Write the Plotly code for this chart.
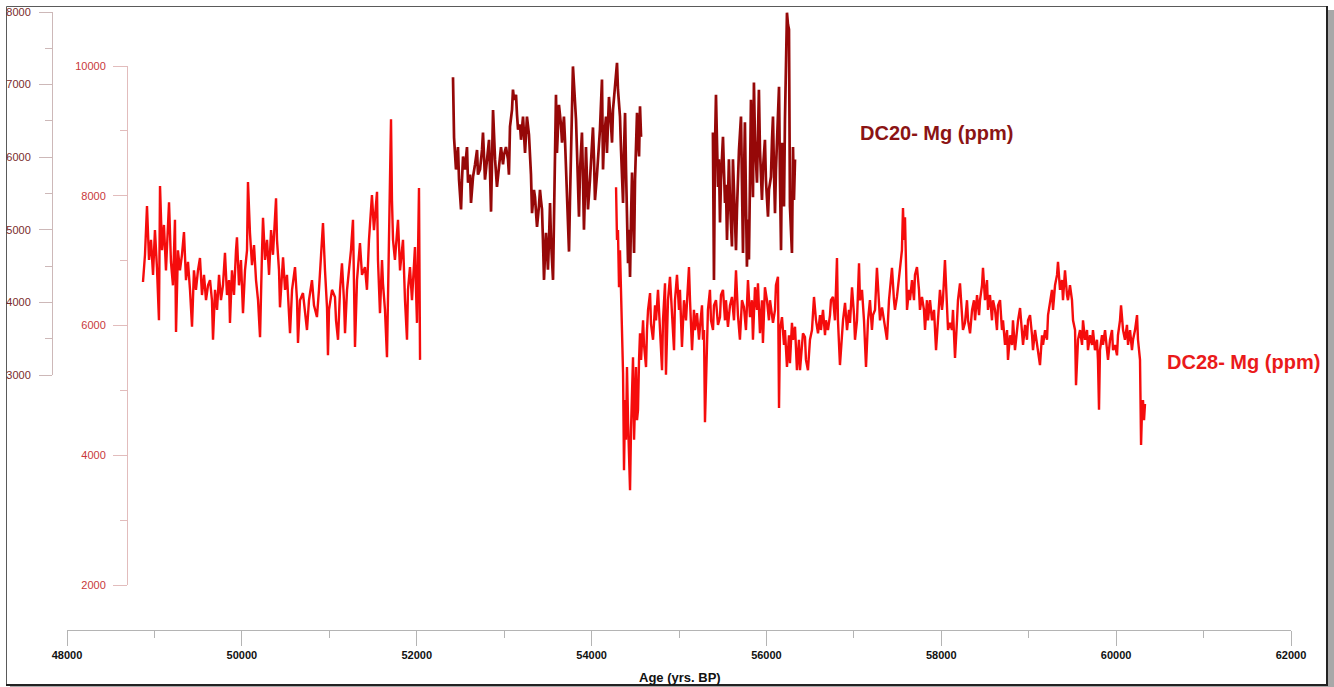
import plotly.graph_objects as go

# ---------------- DATA ----------------
# DC28 Mg (ppm), first segment
dc28_age_a = [48869,48892,48915,48938,48961,48984,49006,49029,49052,49064,
              49087,49109,49132,49144,49167,49189,49212,49235,49247,49269,
              49292,49315,49338,49361,49384,49407,49430,49452,49475,49498,
              49521,49544,49567,49590,49613,49636,49658,49670,49693,49716,
              49739,49761,49784,49807,49830,49853,49864,49887,49910,49933,
              49944,49967,49990,50013,50036,50059,50070,50093,50116,50139,
              50162,50185,50208,50231,50242,50265,50288,50311,50334,50356,
              50391,50402,50425,50436,50459,50471,50494,50516,50551,50574,
              50608,50631,50642,50665,50699,50722,50745,50768,50802,50825,
              50859,50882,50905,50928,50951,50974,50985,50997,51031,51065,
              51077,51100,51123,51145,51168,51180,51203,51225,51248,51271,
              51283,51294,51317,51340,51351,51374,51408,51431,51454,51488,
              51511,51546,51557,51580,51603,51614,51637,51660,51683,51706,
              51717,51729,51751,51786,51809,51843,51866,51889,51900,51923,
              51946,51980,51992,52003,52026,52038]
dc28_mg_a = [6670,7090,7840,7010,7320,6780,7470,6890,6080,8150,
             7160,7550,6850,7320,7900,6980,6620,7630,5900,7160,
             6850,7090,7440,6700,6980,6550,5980,6850,6550,6850,
             7040,6470,6780,6390,6620,6700,6390,5780,6550,6240,
             6780,6390,6620,7120,6470,6700,6040,6850,6470,7160,
             7360,6620,7010,6190,6850,7160,8210,7420,6930,7240,
             6700,6390,5820,7160,7660,7010,7320,6780,7470,7090,
             7960,7320,6850,6280,6850,7050,6550,6780,5880,6550,
             6900,6390,5730,6390,6500,6240,5930,6390,6700,6310,
             6130,6550,7010,7580,6850,6280,5540,6240,6550,6440,
             6080,5780,6550,6960,6390,5880,6550,6850,7160,7630,
             6390,5670,6700,7010,7270,6780,6900,6550,7320,8010,
             7470,8060,7010,6190,7010,6650,6240,5510,7160,9180,
             7930,7320,7010,7630,6850,7320,6390,5780,6550,6900,
             6390,7210,6550,6040,8120,5470]

# DC28 Mg (ppm), second segment
dc28_age_b = [54280,54291,54302,54314,54325,54337,54348,54360,54371,54383,
              54394,54405,54417,54428,54440,54451,54463,54474,54486,54497,
              54508,54520,54531,54543,54554,54566,54589,54600,54623,54634,
              54646,54669,54680,54703,54726,54737,54760,54783,54806,54817,
              54840,54851,54874,54897,54920,54943,54954,54977,55000,55011,
              55034,55057,55080,55103,55114,55126,55149,55171,55183,55206,
              55229,55240,55263,55274,55286,55297,55309,55320,55331,55354,
              55366,55389,55400,55423,55446,55469,55480,55503,55526,55537,
              55560,55583,55606,55629,55652,55674,55697,55720,55743,55766,
              55789,55812,55834,55846,55869,55892,55903,55926,55949,55960,
              55983,56006,56029,56041,56064,56075,56098,56109,56132,56144,
              56155,56178,56201,56212,56235,56258,56269,56292,56304,56327,
              56349,56372,56384,56407,56418,56441,56452,56475,56498,56521,
              56544,56567,56590,56613,56624,56647,56670,56681,56704,56727,
              56738,56761,56784,56807,56818,56841,56864,56876,56899,56922,
              56944,56956,56979,57002,57013,57036,57059,57070,57093,57116,
              57139,57162,57184,57207,57219,57242,57264,57287,57299,57322,
              57344,57356,57379,57402,57413,57436,57459,57470,57493,57516,
              57528,57550,57562,57573,57585,57596,57608,57631,57642,57665,
              57688,57699,57722,57745,57756,57779,57802,57814,57836,57848,
              57871,57894,57917,57940,57962,57985,58008,58019,58042,58065,
              58077,58100,58122,58134,58157,58180,58191,58214,58237,58248,
              58271,58294,58306,58329,58352,58374,58386,58409,58432,58443,
              58466,58477,58500,58523,58534,58557,58580,58592,58615,58637,
              58649,58672,58694,58706,58729,58752,58763,58786,58809,58820,
              58843,58866,58878,58901,58923,58935,58958,58980,58992,59015,
              59038,59049,59072,59095,59106,59129,59152,59164,59187,59209,
              59221,59244,59266,59278,59301,59324,59335,59358,59381,59392,
              59415,59438,59449,59472,59495,59507,59530,59541,59564,59587,
              59610,59621,59644,59667,59678,59701,59724,59735,59758,59781,
              59792,59804,59815,59838,59850,59873,59895,59907,59930,59953,
              59964,59987,60010,60021,60044,60056,60079,60101,60124,60136,
              60159,60181,60193,60216,60239,60250,60273,60285,60296,60307,
              60319,60330]
dc28_mg_b = [8130,7320,7470,6590,7160,6500,5780,5270,3770,4850,
             4240,5360,4540,4000,3460,4390,4850,5510,4240,4850,
             5360,4540,4700,5470,5880,5470,6080,5700,5360,5930,
             6240,6500,6020,5780,6310,6080,6550,5930,5310,6080,
             6650,5240,6390,6750,6080,5620,6390,6780,6240,6550,
             5670,6390,6080,6550,6900,6390,5620,6240,5930,6190,
             5780,5980,6310,5780,5930,4510,5160,5730,6240,6550,
             6080,5930,6310,6390,6010,6130,6470,6550,6080,6390,
             5980,6310,6440,6080,6850,6160,5780,6390,6280,5930,
             6700,6130,6390,5780,6590,6240,6650,5880,6390,5730,
             6590,6390,6080,6390,6160,6040,6240,6620,6750,4730,
             5930,6130,5700,5930,5360,5850,5420,6040,5780,5980,
             5310,5780,5310,5700,5880,5820,5470,5310,5780,5930,
             6440,6080,5880,6160,5930,6240,5850,6080,5930,6160,
             6390,6440,6080,7040,6080,5390,5930,6080,6350,5930,
             6240,6040,6590,6160,5780,6080,6960,6390,6550,6080,
             5360,6080,6390,5930,6160,6240,6890,6390,6080,6280,
             6080,5930,5780,6390,6550,6890,6390,6240,6440,6700,
             6850,7160,7810,7320,7670,6700,6240,6550,6390,6700,
             6390,6780,6900,6550,6240,6440,6240,5930,6390,6080,
             6390,6080,6240,5620,6080,6550,6240,6390,7010,6390,
             5930,6040,5930,6240,5500,6080,6390,6650,6240,5930,
             6040,6390,6080,5880,6240,6390,6080,6470,6160,6390,
             6620,6890,6390,6700,6240,6470,6080,6390,6240,5930,
             6310,6390,5930,6080,5700,5930,5470,5850,5700,6080,
             5620,5930,6080,6270,5930,5700,6010,5780,6080,6160,
             5850,5620,5930,5700,5620,5390,5850,5700,5930,5780,
             6160,6390,6550,6240,6620,6780,6980,6550,6700,6390,
             6850,6470,6390,6620,6390,6080,5930,5080,5780,5930,
             5700,6080,5780,5930,5620,5850,5700,5930,5620,5780,
             5470,4700,5620,5850,5700,5930,5620,5470,5780,5930,
             5620,5700,5540,5850,6080,6310,5930,5780,6010,5700,
             5930,5620,5780,5930,6160,5780,5470,4160,4700,4850,
             4540,4790]

# DC20 Mg (ppm), first segment
dc20_age_a = [52415,52427,52449,52472,52484,52507,52518,52530,52552,52575,
              52587,52610,52621,52644,52667,52690,52701,52724,52747,52758,
              52781,52804,52827,52838,52850,52873,52884,52896,52918,52941,
              52964,52987,52998,53021,53044,53055,53067,53090,53101,53113,
              53136,53147,53159,53181,53193,53216,53239,53250,53261,53284,
              53296,53307,53319,53341,53353,53364,53376,53399,53410,53421,
              53433,53444,53456,53467,53479,53490,53501,53513,53525,53536,
              53547,53559,53570,53582,53593,53604,53616,53627,53650,53662,
              53673,53684,53696,53707,53719,53742,53753,53764,53776,53787,
              53799,53810,53822,53833,53844,53856,53868,53890,53902,53913,
              53925,53936,53948,53959,53982,53993,54005,54016,54028,54039,
              54062,54073,54096,54119,54131,54142,54165,54176,54188,54199,
              54222,54234,54245,54268,54291,54302,54325,54337,54360,54371,
              54383,54394,54417,54428,54440,54451,54463,54474,54486,54497,
              54520,54531,54543,54554,54566]
dc20_mg_a = [7100,6270,5830,6140,5690,5280,5690,6010,5830,6140,
             5650,5760,5370,5730,5900,6100,5760,5830,6100,6340,
             5690,5970,6240,5830,5250,6650,6240,5970,5590,5900,
             6140,5900,6030,6140,5970,5760,6420,6650,6930,6790,
             6860,6590,6380,6450,6240,6560,6060,6310,6560,6310,
             6100,5760,5230,5550,5450,5210,5040,5340,5550,5410,
             5280,4860,4310,4650,4960,4720,4450,4860,5370,4860,
             4520,4310,5140,6100,6860,6060,6380,6720,6450,6200,
             6380,6560,6240,5870,5410,4700,5410,6010,6650,7250,
             7000,6790,6520,6100,5620,5180,5830,6340,5690,5000,
             5550,6140,5690,5280,5690,5970,6240,6410,5970,5410,
             5760,5920,6380,7070,5830,6240,6560,6060,6520,6830,
             6450,6200,6650,6930,7300,6930,6560,6100,5370,6100,
             6610,5830,4540,5000,4350,5140,5790,5280,4680,5690,
             6610,6240,6010,6700,6280]

# DC20 Mg (ppm), second segment
dc20_age_b = [55388,55400,55411,55423,55434,55446,55457,55469,55480,55503,
              55514,55526,55537,55549,55560,55571,55583,55606,55617,55629,
              55652,55663,55674,55686,55709,55720,55732,55743,55754,55766,
              55777,55789,55800,55812,55823,55834,55846,55857,55869,55892,
              55903,55914,55926,55949,55960,55983,55994,56018,56029,56052,
              56064,56075,56086,56098,56109,56121,56132,56144,56155,56167,
              56178,56189,56201,56212,56224,56235,56246,56258,56269,56281,
              56292,56304,56315,56327]
dc20_mg_b = [6340,4310,6100,6860,6240,5590,5970,5100,5690,6280,
             5830,5370,5620,4860,5410,5970,5410,4770,5970,5410,
             4720,5280,5790,6100,6560,5690,4680,5690,6480,5410,
             4490,5140,4590,5690,6790,6100,5450,7030,6240,5650,
             6380,6930,6100,5410,5830,6240,5690,5180,5550,5730,
             6240,6560,5830,5230,5830,6340,6650,6970,5690,4720,
             6200,5690,5320,6520,7620,7990,7830,7760,5320,5000,
             4680,6140,5410,5970]

x_ticks = [48000, 50000, 52000, 54000, 56000, 58000, 60000, 62000]
dc28_ticks = [2000, 4000, 6000, 8000, 10000]
dc20_ticks = [3000, 4000, 5000, 6000, 7000, 8000]

# ---------------- FIGURE ----------------
W, H = 1334, 687
def px(x):
    return x / W
def py(y):
    return 1 - y / H

def join(a1, v1, a2, v2):
    n1 = min(len(a1), len(v1))
    n2 = min(len(a2), len(v2))
    return (list(a1[:n1]) + [None] + list(a2[:n2]),
            list(v1[:n1]) + [None] + list(v2[:n2]))

dc20_x, dc20_y = join(dc20_age_a, dc20_mg_a, dc20_age_b, dc20_mg_b)
dc28_x, dc28_y = join(dc28_age_a, dc28_mg_a, dc28_age_b, dc28_mg_b)

FONT = "Liberation Sans, Arial, Helvetica, sans-serif"
DC20_COL = "#960808"
DC28_COL = "#f50c0c"

fig = go.Figure()
fig.add_trace(go.Scatter(x=dc20_x, y=dc20_y, mode="lines", xaxis="x", yaxis="y2",
                         line=dict(color=DC20_COL, width=2.7), connectgaps=False,
                         hoverinfo="skip", showlegend=False))
fig.add_trace(go.Scatter(x=dc28_x, y=dc28_y, mode="lines", xaxis="x", yaxis="y",
                         line=dict(color=DC28_COL, width=2.4), connectgaps=False,
                         hoverinfo="skip", showlegend=False))

fig.update_layout(
    width=W, height=H,
    margin=dict(l=0, r=0, t=0, b=0, pad=0),
    paper_bgcolor="white", plot_bgcolor="rgba(0,0,0,0)",
    font=dict(family=FONT, size=11, color="#000"),
    showlegend=False,
    xaxis=dict(
        domain=[px(67), px(1291)], range=[48000, 62000],
        anchor="free", position=py(630), automargin=False,
        showline=True, linecolor="#b4b4b4", linewidth=1,
        ticks="outside", ticklen=15, tickcolor="#b4b4b4", tickwidth=1,
        tickvals=x_ticks, tickformat="d",
        tickfont=dict(family=FONT, size=11, color="#111", weight="bold"),
        minor=dict(dtick=1000, tick0=48000, ticks="outside", ticklen=7,
                   tickcolor="#b4b4b4", showgrid=False),
        showgrid=False, zeroline=False, fixedrange=True,
    ),
    yaxis=dict(
        domain=[py(585), py(66)], range=[2000, 10000],
        anchor="free", position=px(127), side="left", automargin=False,
        showline=True, linecolor="#e2bcbc", linewidth=1,
        ticks="outside", ticklen=14, tickcolor="#e2bcbc",
        tickvals=dc28_ticks, tickformat="d", ticklabelstandoff=5,
        tickfont=dict(family=FONT, size=11, color="#c8383a"),
        minor=dict(dtick=1000, tick0=2000, ticks="outside", ticklen=7,
                   tickcolor="#e2bcbc", showgrid=False),
        showgrid=False, zeroline=False,
    ),
    yaxis2=dict(
        domain=[py(375), py(12)], range=[3000, 8000],
        anchor="free", position=px(52), side="left", automargin=False,
        showline=True, linecolor="#cdb8b8", linewidth=1,
        ticks="outside", ticklen=13, tickcolor="#cdb8b8",
        tickvals=dc20_ticks, tickformat="d", ticklabelstandoff=6,
        tickfont=dict(family=FONT, size=11, color="#7a2a2a"),
        minor=dict(dtick=500, tick0=3000, ticks="outside", ticklen=7,
                   tickcolor="#cdb8b8", showgrid=False),
        showgrid=False, zeroline=False,
    ),
)

fig.add_annotation(x=px(858), y=py(133), xref="paper", yref="paper",
                   text="DC20- Mg (ppm)", showarrow=False, xanchor="left", yanchor="middle",
                   font=dict(family=FONT, size=20, color="#8b1414", weight="bold"))
fig.add_annotation(x=px(1165), y=py(362), xref="paper", yref="paper",
                   text="DC28- Mg (ppm)", showarrow=False, xanchor="left", yanchor="middle",
                   font=dict(family=FONT, size=20, color="#ea1a1a", weight="bold"))
fig.add_annotation(x=px(680), y=py(677), xref="paper", yref="paper",
                   text="Age (yrs. BP)", showarrow=False, xanchor="center", yanchor="middle",
                   font=dict(family=FONT, size=13, color="#111", weight="bold"))

# frame with drop shadow
fig.add_shape(type="rect", xref="paper", yref="paper",
              x0=px(1328), x1=1, y0=0, y1=py(10),
              fillcolor="#a8a8a8", line=dict(width=0), layer="below")
fig.add_shape(type="rect", xref="paper", yref="paper",
              x0=px(10), x1=1, y0=0, y1=py(685),
              fillcolor="#a8a8a8", line=dict(width=0), layer="below")
fig.add_shape(type="rect", xref="paper", yref="paper",
              x0=px(6.5), x1=px(1327), y0=py(685), y1=py(6.5),
              line=dict(color="#5a5a5a", width=1), fillcolor="rgba(0,0,0,0)", layer="below")
fig.add_shape(type="line", xref="paper", yref="paper",
              x0=px(1327), x1=px(1327), y0=py(685), y1=py(6),
              line=dict(color="#222", width=2))
fig.add_shape(type="line", xref="paper", yref="paper",
              x0=px(6), x1=px(1328), y0=py(685), y1=py(685),
              line=dict(color="#222", width=2))

fig.write_html("out.html",
               config={"displayModeBar": False, "staticPlot": True},
               post_script="document.body.style.margin='0';document.body.style.overflow='hidden';")
